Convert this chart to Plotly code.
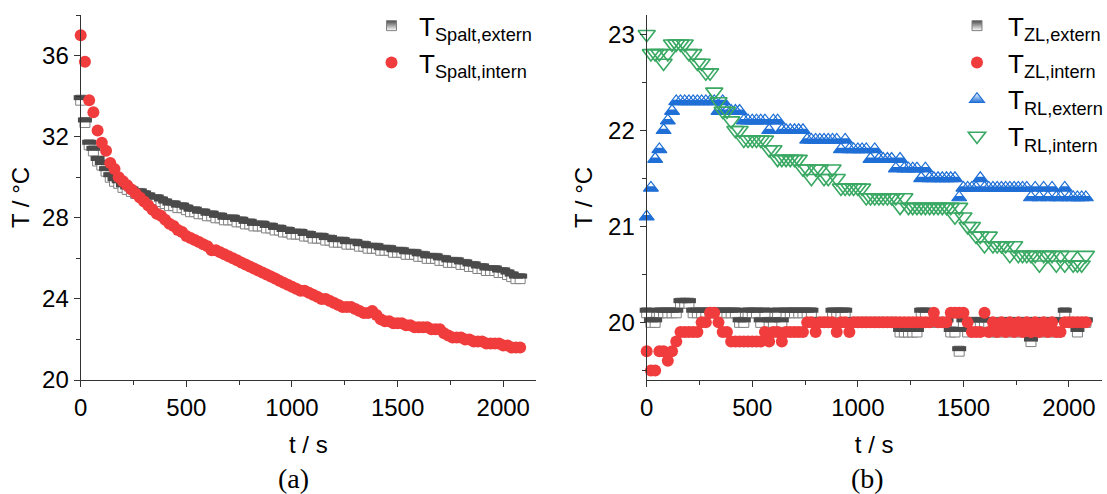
import plotly.graph_objects as go

# ---------------- data ----------------
t = list(range(0, 2100, 20))  # sampling times in s (every 20 s)

spalt_extern = [
    33.8, 32.7, 31.6, 31.3, 30.8, 30.6, 30.3, 30.0, 29.8, 29.7,
    29.5, 29.4, 29.3, 29.2, 29.2, 29.1, 29.0, 28.9, 28.9, 28.8,
    28.7, 28.6, 28.6, 28.5, 28.5, 28.4, 28.3, 28.3, 28.2, 28.2,
    28.1, 28.1, 28.0, 28.0, 27.9, 27.9, 27.9, 27.8, 27.8, 27.7,
    27.7, 27.6, 27.6, 27.6, 27.5, 27.5, 27.4, 27.4, 27.3, 27.3,
    27.2, 27.2, 27.2, 27.1, 27.1, 27.0, 27.0, 27.0, 26.9, 26.9,
    26.8, 26.8, 26.8, 26.7, 26.7, 26.7, 26.6, 26.6, 26.5, 26.5,
    26.5, 26.4, 26.4, 26.4, 26.3, 26.3, 26.3, 26.2, 26.2, 26.2,
    26.1, 26.1, 26.0, 26.0, 26.0, 25.9, 25.9, 25.8, 25.8, 25.8,
    25.7, 25.7, 25.6, 25.6, 25.5, 25.5, 25.4, 25.4, 25.4, 25.3,
    25.3, 25.2, 25.1, 25.0, 25.0,
]
spalt_intern = [
    37.0, 35.7, 33.8, 33.2, 32.3, 31.7, 31.3, 30.7, 30.4, 30.0,
    29.8, 29.6, 29.4, 29.2, 29.0, 28.8, 28.6, 28.4, 28.2, 28.1,
    27.9, 27.7, 27.6, 27.4, 27.3, 27.1, 27.0, 26.9, 26.8, 26.7,
    26.6, 26.4, 26.4, 26.3, 26.2, 26.1, 26.0, 25.9, 25.8, 25.7,
    25.6, 25.5, 25.4, 25.3, 25.2, 25.1, 25.0, 24.9, 24.8, 24.7,
    24.6, 24.5, 24.4, 24.4, 24.3, 24.2, 24.1, 24.0, 24.0, 23.9,
    23.8, 23.7, 23.6, 23.6, 23.6, 23.5, 23.4, 23.3, 23.3, 23.4,
    23.2, 23.0, 22.9, 22.9, 22.8, 22.8, 22.8, 22.7, 22.7, 22.6,
    22.6, 22.6, 22.6, 22.5, 22.5, 22.5, 22.3, 22.2, 22.1, 22.1,
    22.1, 22.0, 22.0, 21.9, 21.9, 21.9, 21.8, 21.8, 21.8, 21.8,
    21.7, 21.7, 21.6, 21.6, 21.6,
]
zl_extern = [
    20.1, 20.0, 20.0, 20.1, 20.1, 20.1, 20.1, 20.1, 20.2, 20.2,
    20.2, 20.1, 20.1, 20.1, 20.1, 20.1, 20.1, 20.1, 20.1, 20.1,
    20.1, 20.1, 20.0, 20.0, 20.1, 20.1, 20.1, 20.0, 20.1, 20.0,
    20.0, 20.1, 20.0, 20.1, 20.1, 20.1, 20.1, 20.1, 20.1, 20.1,
    20.0, 20.0, 20.0, 20.0, 20.1, 20.1, 20.1, 20.1, 20.0, 20.0,
    20.0, 20.0, 20.0, 20.0, 20.0, 20.0, 20.0, 20.0, 20.0, 20.0,
    19.9, 19.9, 19.9, 19.9, 19.9, 20.1, 20.1, 20.0, 20.0, 20.0,
    20.0, 20.0, 19.9, 19.9, 19.7, 20.0, 19.9, 20.0, 20.0, 20.0,
    20.0, 20.0, 19.9, 19.9, 20.0, 19.9, 20.0, 19.9, 20.0, 19.9,
    20.0, 19.8, 20.0, 19.9, 20.0, 19.9, 20.0, 19.9, 20.0, 20.1,
    20.0, 20.0, 19.9, 20.0, 20.0,
]
zl_intern = [
    19.7, 19.5, 19.5, 19.7, 19.7, 19.6, 19.7, 19.8, 19.9, 19.9,
    19.9, 19.9, 19.9, 20.0, 20.0, 20.1, 20.1, 20.0, 19.9, 19.9,
    19.8, 19.8, 19.8, 19.8, 19.8, 19.8, 19.8, 19.8, 19.9, 19.8,
    19.9, 19.9, 19.8, 19.9, 19.9, 19.9, 19.9, 19.9, 20.0, 20.0,
    19.9, 20.0, 20.0, 20.0, 20.0, 19.9, 20.0, 20.0, 19.9, 20.0,
    20.0, 20.0, 20.0, 20.0, 20.0, 20.0, 20.0, 20.0, 20.0, 20.0,
    20.0, 20.0, 20.0, 20.0, 20.0, 20.0, 20.0, 20.0, 20.1, 20.0,
    20.0, 20.0, 20.1, 20.1, 20.1, 20.1, 20.0, 19.9, 19.9, 19.9,
    20.1, 19.9, 20.0, 19.9, 20.0, 19.9, 20.0, 19.9, 20.0, 19.9,
    20.0, 19.9, 20.0, 19.9, 20.0, 19.9, 20.0, 19.9, 19.9, 20.0,
    20.0, 20.0, 20.0, 20.0, 20.0,
]
rl_extern = [
    21.1, 21.4, 21.7, 21.8, 22.0, 22.1, 22.2, 22.3, 22.3, 22.3,
    22.3, 22.3, 22.3, 22.3, 22.3, 22.3, 22.3, 22.2, 22.3, 22.2,
    22.2, 22.2, 22.2, 22.1, 22.1, 22.1, 22.1, 22.1, 22.1, 22.0,
    22.1, 22.1, 22.0, 22.0, 22.0, 22.0, 22.0, 22.0, 21.9, 21.9,
    21.9, 21.9, 21.9, 21.9, 21.9, 21.9, 21.8, 21.9, 21.8, 21.8,
    21.8, 21.8, 21.8, 21.7, 21.8, 21.7, 21.7, 21.7, 21.7, 21.6,
    21.7, 21.6, 21.6, 21.6, 21.6, 21.5, 21.6, 21.5, 21.5, 21.5,
    21.5, 21.5, 21.5, 21.5, 21.3, 21.4, 21.4, 21.4, 21.4, 21.5,
    21.4, 21.4, 21.4, 21.4, 21.4, 21.4, 21.4, 21.4, 21.4, 21.4,
    21.4, 21.3, 21.4, 21.3, 21.4, 21.3, 21.4, 21.3, 21.3, 21.4,
    21.3, 21.3, 21.3, 21.3, 21.3,
]
rl_intern = [
    23.0, 22.8, 22.8, 22.8, 22.7, 22.8, 22.9, 22.9, 22.9, 22.9,
    22.8, 22.8, 22.7, 22.7, 22.6, 22.6, 22.4, 22.3, 22.2, 22.2,
    22.1, 22.0, 22.0, 21.9, 21.9, 21.9, 21.9, 21.9, 21.9, 21.8,
    21.8, 21.7, 21.7, 21.7, 21.7, 21.7, 21.7, 21.6, 21.6, 21.5,
    21.6, 21.6, 21.5, 21.5, 21.6, 21.5, 21.4, 21.4, 21.4, 21.4,
    21.4, 21.4, 21.3, 21.3, 21.3, 21.3, 21.3, 21.3, 21.3, 21.3,
    21.2, 21.3, 21.2, 21.2, 21.2, 21.2, 21.2, 21.2, 21.2, 21.2,
    21.2, 21.2, 21.2, 21.1, 21.2, 21.1, 21.0, 21.0, 20.9, 20.9,
    20.8, 20.9, 20.8, 20.8, 20.8, 20.8, 20.7, 20.8, 20.7, 20.7,
    20.7, 20.7, 20.7, 20.6, 20.7, 20.7, 20.7, 20.6, 20.7, 20.6,
    20.7, 20.6, 20.6, 20.6, 20.7,
]

x_ticks = [0, 500, 1000, 1500, 2000]
ya_ticks = [20, 24, 28, 32, 36]
yb_ticks = [20, 21, 22, 23]

labels_a = ["T<sub>Spalt,extern</sub>", "T<sub>Spalt,intern</sub>"]
labels_b = ["T<sub>ZL,extern</sub>", "T<sub>ZL,intern</sub>",
            "T<sub>RL,extern</sub>", "T<sub>RL,intern</sub>"]

# ---------------- style / layout constants ----------------
W, H = 1107, 494
M_T, M_B = 15, 114
PLOT_H = H - M_T - M_B
XR = [0, 2155]
YA = [20, 38]
YB = [19.4, 23.2]

FONT = "Liberation Sans, Arial, sans-serif"
SERIF = "Liberation Serif, Times New Roman, serif"
AX = "#333333"
DARK = "#4a4a4a"
GRAYLINE = "#808080"
RED = "#f03c3c"
BLUE = "#1f6fd6"
GREEN = "#38a862"

SQ = 10      # square marker size
TRI = 13     # blue triangle size
TRI_D = 15   # green triangle size
CIRC = 12

def shifted(rng, px):
    """axis range that displays the same values px pixels higher"""
    d = px * (rng[1] - rng[0]) / PLOT_H
    return [rng[0] - d, rng[1] - d]

fig = go.Figure()

def sc(x, y, xa, ya, marker, name=None, legend=None, show=False):
    fig.add_trace(go.Scatter(
        x=x, y=y, mode="markers", xaxis=xa, yaxis=ya, marker=marker,
        name=name, showlegend=show, legend=legend, cliponaxis=False,
        legendgroup=name, hoverinfo="skip"))

# ----- panel (a) -----
sc([None], [None], "x", "y4",
   dict(symbol="square", size=SQ, color=DARK,
        gradient=dict(type="vertical", color="white"),
        line=dict(color=GRAYLINE, width=1)),
   name=labels_a[0], legend="legend", show=True)
sc(t, spalt_extern, "x", "y",
   dict(symbol="square", size=SQ, color="white", line=dict(color=GRAYLINE, width=1)))
sc(t, spalt_extern, "x", "y3",
   dict(symbol="line-ew", size=SQ, line=dict(color=DARK, width=SQ / 2)))
sc(t, spalt_intern, "x", "y4",
   dict(symbol="circle", size=CIRC, color=RED, line=dict(width=0)),
   name=labels_a[1], legend="legend", show=True)

# ----- panel (b) -----
sc([None], [None], "x2", "y6",
   dict(symbol="square", size=SQ, color=DARK,
        gradient=dict(type="vertical", color="white"),
        line=dict(color=GRAYLINE, width=1)),
   name=labels_b[0], legend="legend2", show=True)
sc(t, zl_extern, "x2", "y2",
   dict(symbol="square", size=SQ, color="white", line=dict(color=GRAYLINE, width=1)))
sc(t, zl_extern, "x2", "y5",
   dict(symbol="line-ew", size=SQ, line=dict(color=DARK, width=SQ / 2)))
sc(t, zl_intern, "x2", "y6",
   dict(symbol="circle", size=CIRC, color=RED, line=dict(width=0)),
   name=labels_b[1], legend="legend2", show=True)
sc([None], [None], "x2", "y6",
   dict(symbol="triangle-up", size=TRI, color="white",
        gradient=dict(type="vertical", color=BLUE),
        line=dict(color=BLUE, width=1.2)),
   name=labels_b[2], legend="legend2", show=True)
sc(t, rl_extern, "x2", "y6",
   dict(symbol="triangle-up", size=TRI, color=BLUE, line=dict(width=0)))
sc(t, rl_extern, "x2", "y7",
   dict(symbol="triangle-up", size=TRI / 2, color="white", line=dict(width=0)))
sc(t, rl_extern, "x2", "y8",
   dict(symbol="triangle-up-open", size=TRI, color=BLUE, line=dict(color=BLUE, width=1.2)))
sc(t, rl_intern, "x2", "y8",
   dict(symbol="triangle-down-open", size=TRI_D, color=GREEN, line=dict(color=GREEN, width=1.6)),
   name=labels_b[3], legend="legend2", show=True)

tickfont = dict(family=FONT, size=24, color="black")
titlefont = dict(family=FONT, size=24, color="black")

def xaxis(domain, anchor):
    return dict(domain=domain, anchor=anchor, range=XR, tickvals=x_ticks,
                ticks="outside", ticklen=6, tickwidth=1.3, tickcolor=AX,
                showline=True, linecolor=AX, linewidth=1.3, showgrid=False,
                zeroline=False, tickfont=tickfont,
                minor=dict(ticks="outside", ticklen=3.5, tickwidth=1.2,
                           tickcolor=AX, dtick=250, tick0=0, showgrid=False),
                title=dict(text="t / s", font=titlefont, standoff=16))

def yaxis(rng, ticks, mdtick, anchor, standoff):
    return dict(domain=[0, 1], anchor=anchor, range=rng, tickvals=ticks,
                ticks="outside", ticklen=6, tickwidth=1.3, tickcolor=AX,
                showline=True, linecolor=AX, linewidth=1.3, showgrid=False,
                zeroline=False, tickfont=tickfont,
                minor=dict(ticks="outside", ticklen=3.5, tickwidth=1.2,
                           tickcolor=AX, dtick=mdtick, tick0=ticks[0], showgrid=False),
                title=dict(text="T / °C", font=titlefont, standoff=standoff))

def hidden(over, rng, anchor):
    return dict(overlaying=over, range=rng, visible=False, anchor=anchor,
                showgrid=False, zeroline=False)

xa_dom = [80.7 / W, 536 / W]
xb_dom = [646.7 / W, 1101.7 / W]

legend_common = dict(font=dict(family=FONT, size=26, color="black"),
                     bgcolor="rgba(0,0,0,0)", borderwidth=0,
                     tracegroupgap=8, xanchor="left", yanchor="top",
                     traceorder="normal", itemclick=False)

fig.update_layout(
    width=W, height=H,
    margin=dict(l=0, r=0, t=M_T, b=M_B, autoexpand=False),
    paper_bgcolor="white", plot_bgcolor="white",
    xaxis=xaxis(xa_dom, "y"),
    xaxis2=xaxis(xb_dom, "y2"),
    yaxis=yaxis(YA, ya_ticks, 2, "x", 5),
    yaxis2=yaxis(YB, yb_ticks, 0.5, "x2", 8),
    yaxis3=hidden("y", shifted(YA, SQ / 4), "x"),
    yaxis4=hidden("y", YA, "x"),
    yaxis5=hidden("y2", shifted(YB, SQ / 4), "x2"),
    yaxis6=hidden("y2", YB, "x2"),
    yaxis7=hidden("y2", shifted(YB, TRI / 4), "x2"),
    yaxis8=hidden("y2", YB, "x2"),
    legend=dict(x=364 / W, y=1.035, itemwidth=45, **legend_common),
    legend2=dict(x=946 / W, y=1.035, itemwidth=52, **legend_common),
    annotations=[
        dict(text="(a)", xref="paper", yref="paper", x=293 / W,
             y=(H - M_B - 478) / PLOT_H, xanchor="center", yanchor="middle",
             showarrow=False, font=dict(family=SERIF, size=28, color="black")),
        dict(text="(b)", xref="paper", yref="paper", x=867 / W,
             y=(H - M_B - 478) / PLOT_H, xanchor="center", yanchor="middle",
             showarrow=False, font=dict(family=SERIF, size=28, color="black")),
    ],
)

fig.write_html("out.html")
